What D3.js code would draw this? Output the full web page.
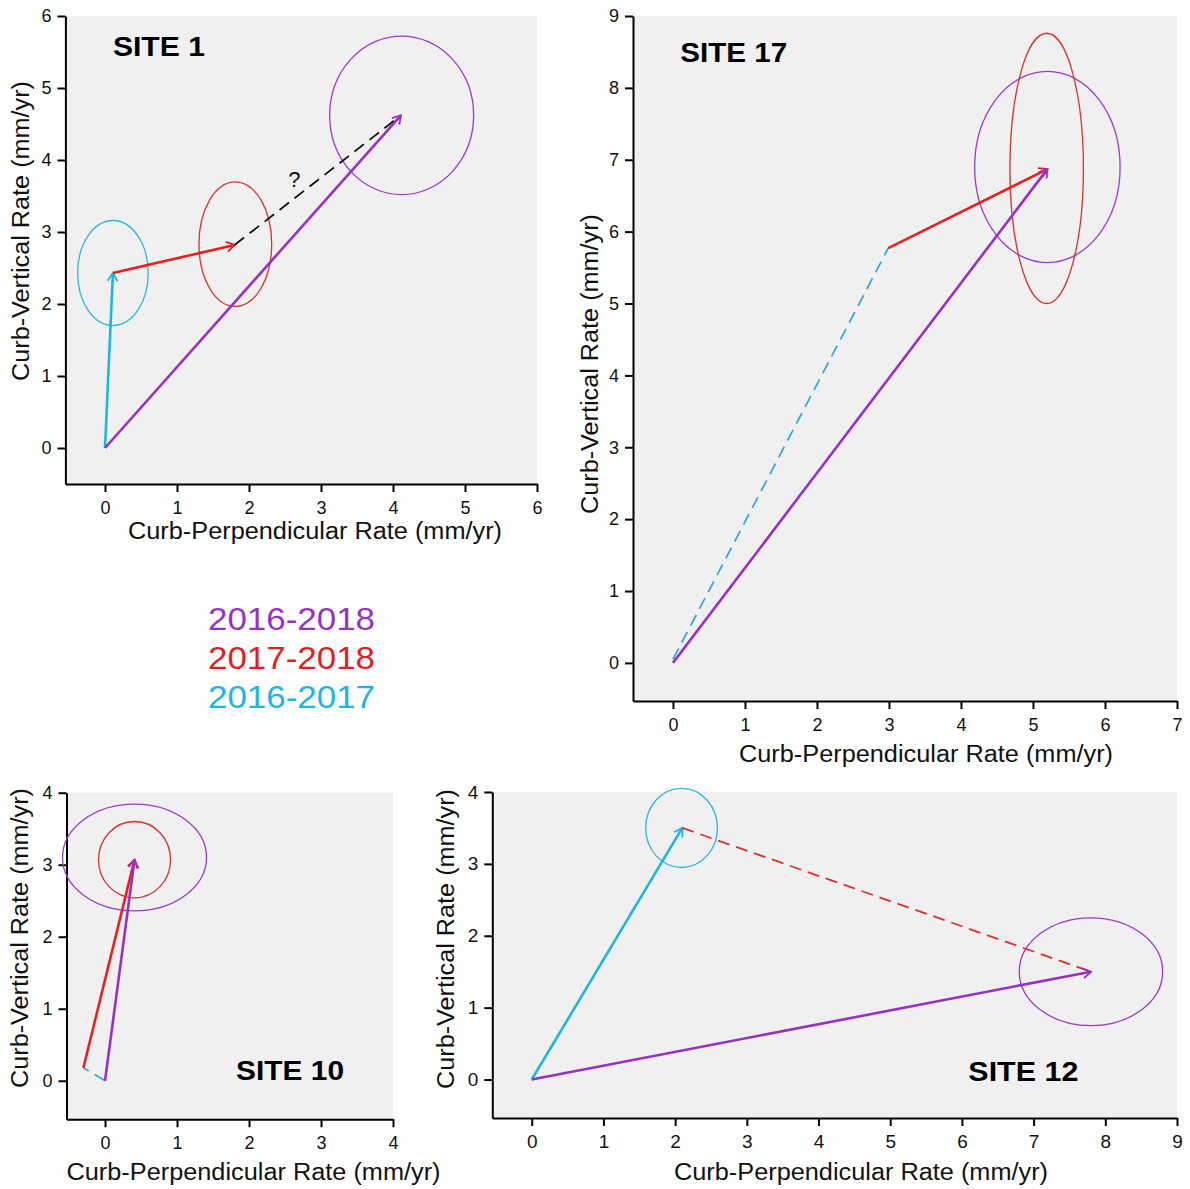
<!DOCTYPE html>
<html>
<head>
<meta charset="utf-8">
<script src="https://cdn.jsdelivr.net/npm/d3@7"></script>
<style>
  body { margin: 0; background: #fff; }
  svg { display: block; font-family: Arial, "Liberation Sans", sans-serif; }
  .axis path, .axis line { stroke: #000; stroke-width: 2; }
  .axis text { fill: #111; }
</style>
</head>
<body>
<svg id="chart" width="1190" height="1189"></svg>
<script>
// periods shown in the legend (top to bottom)
const periods = ["2016-2018", "2017-2018", "2016-2017"];

// tick values per site
const site1Ticks = { x: [0, 1, 2, 3, 4, 5, 6], y: [0, 1, 2, 3, 4, 5, 6] };
const site17Ticks = { x: [0, 1, 2, 3, 4, 5, 6, 7], y: [0, 1, 2, 3, 4, 5, 6, 7, 8, 9] };
const site10Ticks = { x: [0, 1, 2, 3, 4], y: [0, 1, 2, 3, 4] };
const site12Ticks = { x: [0, 1, 2, 3, 4, 5, 6, 7, 8, 9], y: [0, 1, 2, 3, 4] };

// velocity vectors (mm/yr): period, start, end, inferred (no survey -> dashed)
const site1Vectors = [
  { period: "2016-2017", x0: 0, y0: 0, x1: 0.11, y1: 2.43, inferred: false },
  { period: "2017-2018", x0: 0.11, y0: 2.43, x1: 1.8, y1: 2.82, inferred: false },
  { period: "unknown", x0: 1.8, y0: 2.82, x1: 4.11, y1: 4.62, inferred: true },
  { period: "2016-2018", x0: 0, y0: 0, x1: 4.11, y1: 4.62, inferred: false },
];
const site17Vectors = [
  { period: "2016-2017", x0: 0, y0: 0.05, x1: 2.99, y1: 5.77, inferred: true },
  { period: "2017-2018", x0: 2.99, y0: 5.77, x1: 5.2, y1: 6.87, inferred: false },
  { period: "2016-2018", x0: 0, y0: 0, x1: 5.2, y1: 6.87, inferred: false },
];
const site10Vectors = [
  { period: "2016-2017", x0: 0, y0: 0, x1: -0.3, y1: 0.18, inferred: true },
  { period: "2017-2018", x0: -0.3, y0: 0.18, x1: 0.41, y1: 3.07, inferred: false },
  { period: "2016-2018", x0: 0, y0: 0, x1: 0.41, y1: 3.07, inferred: false },
];
const site12Vectors = [
  { period: "2016-2017", x0: 0, y0: 0, x1: 2.1, y1: 3.5, inferred: false },
  { period: "2017-2018", x0: 2.1, y0: 3.5, x1: 7.8, y1: 1.5, inferred: true },
  { period: "2016-2018", x0: 0, y0: 0, x1: 7.8, y1: 1.5, inferred: false },
];

// uncertainty ellipses (mm/yr): centre and semi-axes
const site1Ellipses = [
  { period: "2016-2017", cx: 0.11, cy: 2.43, rx: 0.49, ry: 0.73 },
  { period: "2017-2018", cx: 1.81, cy: 2.83, rx: 0.505, ry: 0.865 },
  { period: "2016-2018", cx: 4.12, cy: 4.62, rx: 1.0, ry: 1.1 },
];
const site17Ellipses = [
  { period: "2016-2018", cx: 5.2, cy: 6.9, rx: 1.01, ry: 1.33 },
  { period: "2017-2018", cx: 5.19, cy: 6.88, rx: 0.51, ry: 1.88 },
];
const site10Ellipses = [
  { period: "2016-2018", cx: 0.41, cy: 3.1, rx: 1.0, ry: 0.74 },
  { period: "2017-2018", cx: 0.41, cy: 3.07, rx: 0.5, ry: 0.53 },
];
const site12Ellipses = [
  { period: "2016-2017", cx: 2.09, cy: 3.5, rx: 0.5, ry: 0.55 },
  { period: "2016-2018", cx: 7.8, cy: 1.5, rx: 1.0, ry: 0.75 },
];

const xTitle = "Curb-Perpendicular Rate (mm/yr)";
const yTitle = "Curb-Vertical Rate (mm/yr)";

// colours
const lineColor = d3.scaleOrdinal()
  .domain(["2016-2018", "2017-2018", "2016-2017", "unknown"])
  .range(["#9631c6", "#e8201e", "#1cb5e5", "#111111"]);
const dashColor = d3.scaleOrdinal()
  .domain(["2016-2018", "2017-2018", "2016-2017", "unknown"])
  .range(["#9631c6", "#e0302a", "#3aa8d6", "#111111"]);
const ellipseColor = d3.scaleOrdinal()
  .domain(["2016-2018", "2017-2018", "2016-2017"])
  .range(["#9a3ccb", "#d8322c", "#2fb6dc"]);
const legendColor = d3.scaleOrdinal()
  .domain(periods)
  .range(["#9832c6", "#e41e1e", "#1bb5e8"]);

// panel layout (pixels)
const panels = [
  { name: "SITE 1", ticks: site1Ticks, vectors: site1Vectors, ellipses: site1Ellipses,
    xd: [-0.55, 6], xr: [65.4, 537], yd: [-0.5, 6], yr: [484, 16],
    label: [0.11, 5.45], labelW: 92, tickFont: 18,
    xt: [315, 539], yt: [29, 231], question: [2.63, 3.73] },
  { name: "SITE 17", ticks: site17Ticks, vectors: site17Vectors, ellipses: site17Ellipses,
    xd: [-0.555, 7], xr: [633, 1177], yd: [-0.53, 9], yr: [701, 16],
    label: [0.1, 8.36], labelW: 107, tickFont: 18,
    xt: [926, 762], yt: [598, 364] },
  { name: "SITE 10", ticks: site10Ticks, vectors: site10Vectors, ellipses: site10Ellipses,
    xd: [-0.535, 4], xr: [66.5, 393], yd: [-0.535, 4], yr: [1119.3, 792.7],
    label: [1.82, 0.01], labelW: 108, tickFont: 18,
    xt: [253.5, 1180], yt: [28, 938] },
  { name: "SITE 12", ticks: site12Ticks, vectors: site12Vectors, ellipses: site12Ellipses,
    xd: [-0.55, 9], xr: [492.3, 1177], yd: [-0.535, 4], yr: [1118, 792],
    label: [6.09, -0.02], labelW: 110, tickFont: 19,
    xt: [861, 1180], yt: [454, 939] },
];

const svg = d3.select("#chart");

// arrowhead markers, one per period colour
const defs = svg.append("defs");
["2016-2018", "2017-2018", "2016-2017"].forEach((p, i) => {
  defs.append("marker")
    .attr("id", "arrow" + i)
    .attr("markerUnits", "userSpaceOnUse")
    .attr("viewBox", "-10 -7 12 14")
    .attr("markerWidth", 12)
    .attr("markerHeight", 14)
    .attr("refX", 0)
    .attr("refY", 0)
    .attr("orient", "auto")
    .append("path")
    .attr("d", "M-8,-5 L0,0 L-8,5")
    .attr("fill", "none")
    .attr("stroke", lineColor(p))
    .attr("stroke-width", 1.8);
});
const markerId = (p) => ["2016-2018", "2017-2018", "2016-2017"].indexOf(p);

panels.forEach((pn) => {
  const x = d3.scaleLinear().domain(pn.xd).range(pn.xr);
  const y = d3.scaleLinear().domain(pn.yd).range(pn.yr);
  const g = svg.append("g");

  // plot background
  g.append("rect")
    .attr("x", pn.xr[0])
    .attr("y", pn.yr[1])
    .attr("width", pn.xr[1] - pn.xr[0])
    .attr("height", pn.yr[0] - pn.yr[1])
    .attr("fill", "#f0f0f0");

  // axes
  const xAxisG = g.append("g")
    .attr("class", "axis")
    .attr("transform", `translate(0,${pn.yr[0]})`)
    .call(d3.axisBottom(x).tickValues(pn.ticks.x).tickFormat(d3.format("d"))
      .tickSize(8).tickSizeOuter(0).tickPadding(9));
  xAxisG.attr("font-size", pn.tickFont).attr("font-family", null);

  const yAxisG = g.append("g")
    .attr("class", "axis")
    .attr("transform", `translate(${pn.xr[0]},0)`)
    .call(d3.axisLeft(y).tickValues(pn.ticks.y).tickFormat(d3.format("d"))
      .tickSize(8).tickSizeOuter(0).tickPadding(6));
  yAxisG.attr("font-size", pn.tickFont).attr("font-family", null);

  // uncertainty ellipses
  g.selectAll("ellipse")
    .data(pn.ellipses)
    .join("ellipse")
    .attr("cx", (d) => x(d.cx))
    .attr("cy", (d) => y(d.cy))
    .attr("rx", (d) => x(d.cx + d.rx) - x(d.cx))
    .attr("ry", (d) => y(d.cy) - y(d.cy + d.ry))
    .attr("fill", "none")
    .attr("stroke", (d) => ellipseColor(d.period))
    .attr("stroke-width", 1.3);

  // vectors
  g.selectAll("line.vec")
    .data(pn.vectors)
    .join("line")
    .attr("class", "vec")
    .attr("x1", (d) => x(d.x0))
    .attr("y1", (d) => y(d.y0))
    .attr("x2", (d) => x(d.x1))
    .attr("y2", (d) => y(d.y1))
    .attr("stroke", (d) => (d.inferred ? dashColor(d.period) : lineColor(d.period)))
    .attr("stroke-width", (d) => (d.inferred ? 1.8 : 2.6))
    .attr("stroke-dasharray", (d) => (d.inferred ? "12,7" : null))
    .attr("marker-end", (d) => (d.inferred ? null : `url(#arrow${markerId(d.period)})`));

  if (pn.question) {
    g.append("text")
      .attr("x", x(pn.question[0]))
      .attr("y", y(pn.question[1]))
      .attr("text-anchor", "middle")
      .attr("dominant-baseline", "central")
      .attr("font-size", 22)
      .attr("fill", "#111")
      .text("?");
  }

  // site label
  g.append("text")
    .attr("x", x(pn.label[0]))
    .attr("y", y(pn.label[1]))
    .attr("font-size", 28)
    .attr("font-weight", "bold")
    .attr("textLength", pn.labelW)
    .attr("lengthAdjust", "spacingAndGlyphs")
    .attr("fill", "#000")
    .text(pn.name);

  // axis titles
  g.append("text")
    .attr("x", pn.xt[0] - 187)
    .attr("y", pn.xt[1])
    .attr("font-size", 23)
    .attr("textLength", 374)
    .attr("lengthAdjust", "spacingAndGlyphs")
    .attr("fill", "#111")
    .text(xTitle);

  g.append("text")
    .attr("transform", `translate(${pn.yt[0]},${pn.yt[1]}) rotate(-90)`)
    .attr("x", -150)
    .attr("font-size", 23)
    .attr("textLength", 300)
    .attr("lengthAdjust", "spacingAndGlyphs")
    .attr("fill", "#111")
    .text(yTitle);
});

// legend
svg.append("g")
  .selectAll("text")
  .data(periods)
  .join("text")
  .attr("x", 208)
  .attr("y", (d, i) => 630 + i * 39)
  .attr("font-size", 31)
  .attr("textLength", 167)
  .attr("lengthAdjust", "spacingAndGlyphs")
  .attr("fill", (d) => legendColor(d))
  .text((d) => d);
</script>
</body>
</html>
